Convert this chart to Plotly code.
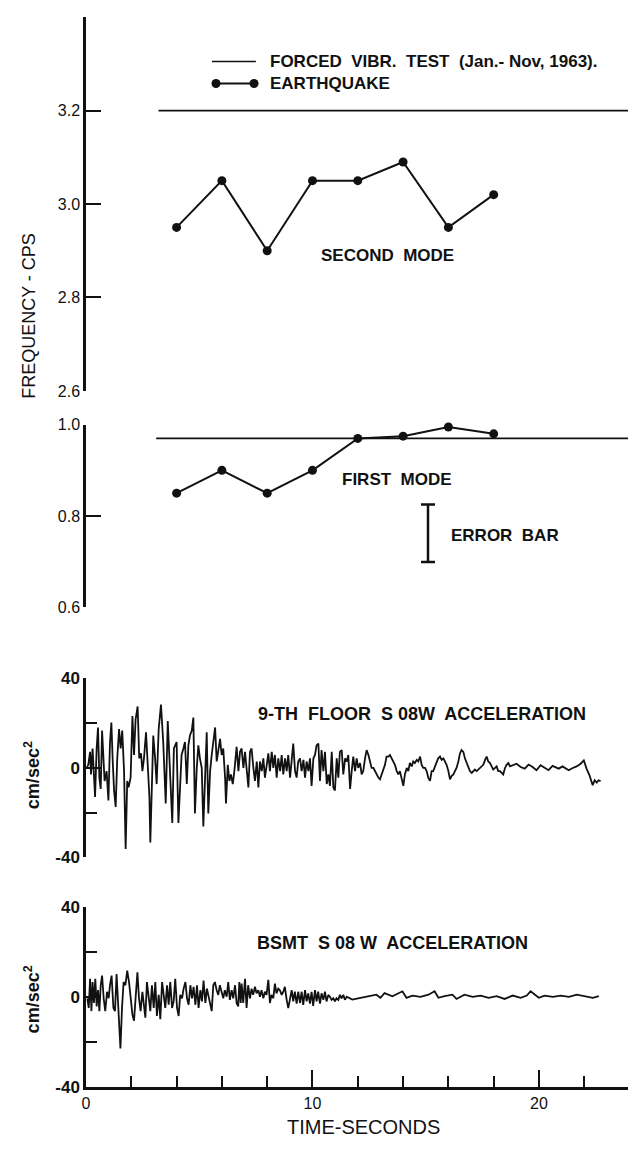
import plotly.graph_objects as go

# ---------------- data ----------------
MODE_TIMES = [4, 6, 8, 10, 12, 14, 16, 18]
SECOND_MODE_FREQ = [2.95, 3.05, 2.90, 3.05, 3.05, 3.09, 2.95, 3.02]
FIRST_MODE_FREQ = [0.85, 0.90, 0.85, 0.90, 0.97, 0.975, 0.995, 0.98]

T_MAX = 23.93
FORCED_SECOND_T = [3.2, T_MAX]
FORCED_SECOND_F = [3.2, 3.2]
FORCED_FIRST_T = [3.1, T_MAX]
FORCED_FIRST_F = [0.97, 0.97]

ERROR_BAR_T = [15.1]
ERROR_BAR_CENTER = [0.762]
ERROR_BAR_HALF = [0.063]

FREQ2_TICKS = [2.6, 2.8, 3.0, 3.2]
FREQ1_TICKS = [0.6, 0.8, 1.0]
ACC_TICKS = [-40, 0, 40]
ACC_MINOR_TICKS = [-20, 20]
TIME_TICKS = [0, 10, 20]
TIME_MINOR_TICKS = [2, 4, 6, 8, 12, 14, 16, 18, 22]

FLOOR9_T = [
    0.03, 0.10, 0.18, 0.22, 0.29, 0.35, 0.40, 0.47, 0.53, 0.59, 0.65, 0.71, 0.77, 0.82, 0.91, 0.99,
    1.06, 1.12, 1.18, 1.24, 1.31, 1.38, 1.46, 1.53, 1.60, 1.68, 1.75, 1.82, 1.88, 1.97, 2.05, 2.12,
    2.19, 2.28, 2.35, 2.43, 2.49, 2.56, 2.65, 2.72, 2.80, 2.84, 2.91, 2.97, 3.05, 3.12, 3.21, 3.31,
    3.41, 3.52, 3.61, 3.71, 3.81, 3.88,
    4.00, 4.08, 4.15, 4.22, 4.30, 4.37, 4.45, 4.52, 4.59, 4.67, 4.74, 4.81, 4.89, 4.96, 5.03, 5.11,
    5.18, 5.25, 5.33, 5.40, 5.48, 5.55, 5.62, 5.70, 5.77, 5.84, 5.92, 5.99, 6.06, 6.14, 6.18, 6.26,
    6.33, 6.40, 6.48, 6.55, 6.65, 6.73, 6.80, 6.87, 6.95, 7.02, 7.09, 7.17, 7.24, 7.31, 7.39, 7.46,
    7.54, 7.61, 7.68, 7.76, 7.83, 7.90, 7.98, 8.05, 8.12, 8.20, 8.27, 8.34, 8.42, 8.49, 8.57, 8.64,
    8.71, 8.79, 8.86, 8.93, 9.01, 9.08, 9.15, 9.23, 9.30, 9.37, 9.45, 9.52, 9.60, 9.67, 9.74, 9.82,
    9.89, 9.96, 10.04, 10.11, 10.18, 10.26, 10.33, 10.40, 10.48, 10.55, 10.63, 10.70, 10.77, 10.85,
    10.92, 10.99, 11.07, 11.14, 11.21, 11.29, 11.36, 11.44, 11.51, 11.58, 11.66, 11.73, 11.80, 11.88,
    11.95, 12.02, 12.10, 12.17, 12.24, 12.32, 12.39, 12.47, 12.54, 12.61, 12.69, 12.76, 12.83, 12.91,
    12.98, 13.05, 13.13, 13.20, 13.27,
    13.35, 13.42, 13.49, 13.57, 13.64, 13.72, 13.79, 13.86, 13.94, 14.01, 14.08, 14.16, 14.23, 14.30,
    14.38, 14.45, 14.52, 14.60, 14.67, 14.75, 14.82, 14.89, 14.97, 15.04, 15.11, 15.19, 15.26, 15.33,
    15.41, 15.48, 15.55, 15.63, 15.70, 15.78, 15.85, 15.92, 16.00, 16.07, 16.14, 16.22, 16.29, 16.36,
    16.44, 16.51, 16.58, 16.66, 16.73, 16.81, 16.88, 16.95, 17.03, 17.10, 17.17, 17.25, 17.32, 17.39,
    17.47, 17.54, 17.62, 17.69, 17.76, 17.84, 17.91, 17.98, 18.06, 18.13, 18.20, 18.28, 18.35, 18.42,
    18.50, 18.57, 18.65, 18.72,
    19.01, 19.19, 19.37, 19.54, 19.72, 19.89, 20.07, 20.25, 20.42, 20.60, 20.87, 21.04, 21.31, 21.49,
    21.66, 21.84, 21.98, 22.10, 22.23, 22.37, 22.46, 22.55, 22.63, 22.72,
]
FLOOR9_ACC = [
    0.0, 1.4, 7.2, -2.9, 8.7, -1.4, -13.0, 8.7, 18.1, -4.3, -9.4, 16.7, 2.9, -5.8, -1.4, -14.5,
    11.6, 20.3, 2.9, -10.1, -17.4, 4.3, 17.4, 8.7, 16.7, -1.4, -36.2, -5.8, -8.7, -4.3, 23.2, 5.8,
    21.7, 27.5, 4.3, 6.5, -1.4, 4.3, 15.9, -1.4, -13.0, -33.3, -5.8, 14.5, 4.3, -7.2, 17.4, 28.3,
    11.6, -15.9, 21.0, -1.4, -24.6, 8.7,
    11.6, -24.6, -5.8, 5.8, 8.7, 11.6, -7.2, 10.1, 14.5, 16.7, 22.5, -20.3, 0.0, 10.1, 4.3, 0.0,
    -26.1, -7.2, 15.9, -20.3, -1.4, 5.8, 13.0, 18.1, 2.9, 7.2, 13.0, 5.8, 8.7, -4.3, -15.9, 1.4,
    -5.8, -2.9, -7.2, -1.4, 9.4, -1.4, 7.2, 8.7, 0.0, 7.2, -1.4, -8.7, 7.2, 8.7, 0.0, -5.8,
    2.9, -8.7, 2.9, -1.4, 4.3, -4.3, 1.4, 6.5, -1.4, 7.2, 0.0, 5.8, -4.3, 4.3, -1.4, 5.8,
    -2.9, 4.3, -1.4, 5.8, -4.3, 4.3, 10.9, -1.4, -4.3, 2.9, 4.3, -1.4, 3.6, -4.3, 2.9, -1.4,
    4.3, -8.0, 4.3, 5.8, 10.1, 10.9, -5.8, 8.0, -1.4, 7.2, -7.2, -2.9, -8.0, 7.2,
    -8.7, -10.1, 4.3, -4.3, 7.2, 8.0, -2.9, 4.3, 2.9, 5.8, -9.4, -1.4, 5.1, -1.4,
    4.3, 0.0, 2.2, -2.9, -1.4, 4.3, 8.0, 5.8, 2.9, 0.0, 0.0, -1.4, -2.9, -4.3,
    -5.1, -2.9, -1.4, 1.4, 5.1,
    5.1, 5.8, 4.3, 2.9, 1.4, -1.4, -2.9, -1.4, -4.3, -8.0, -2.9, 0.0, -1.4, 2.2,
    0.7, 2.9, 2.2, 3.6, 2.9, 5.1, 1.4, 0.0, 0.0, -1.4, -4.3, -5.8, -1.4, -1.4,
    0.7, 2.2, 4.3, 5.1, 3.6, 4.3, 2.9, 1.4, -1.4, -5.1, -3.6, -2.9, -1.4, 0.0,
    2.9, 6.5, 8.0, 7.2, 4.3, 2.2, 0.0, -1.4, -2.2, -1.4, -0.7, -1.4, -0.7, 0.0,
    0.7, 1.4, 3.6, 5.1, 2.9, 2.2, 0.7, -0.7, 0.0, 0.7, -1.4, -1.4, -2.2, -2.9,
    0.0, 1.4, 2.2, 0.7,
    1.9, 0.4, -0.3, 1.5, 0.4, -1.0, 1.2, 0.0, -1.0, 0.9, -0.3, 0.7, -1.0, 0.0,
    0.7, 1.9, 3.4, -0.3, -3.3, -7.7, -5.5, -6.5, -5.5, -5.9,
]

BSMT_T = [
    0.06, 0.12, 0.18, 0.24, 0.29, 0.35, 0.41, 0.47, 0.53, 0.59, 0.65, 0.71, 0.78, 0.85, 0.93, 1.00,
    1.06, 1.13, 1.21, 1.28, 1.35, 1.44, 1.52, 1.59, 1.66, 1.74, 1.82, 1.90, 1.97, 2.05, 2.12, 2.19,
    2.27, 2.34, 2.41, 2.49, 2.56, 2.62, 2.69, 2.77, 2.84, 2.91, 2.99, 3.06, 3.13, 3.21, 3.28, 3.36,
    3.43, 3.50, 3.58, 3.65, 3.72, 3.80, 3.87, 3.94, 4.02, 4.09, 4.16, 4.24, 4.31, 4.39, 4.46, 4.53,
    4.61, 4.68, 4.75, 4.83, 4.90, 4.97, 5.05, 5.12, 5.19, 5.27, 5.34, 5.42,
    5.55, 5.62, 5.69, 5.77, 5.84, 5.91, 5.99, 6.06, 6.13, 6.21, 6.28, 6.35, 6.43, 6.50, 6.58, 6.65,
    6.72, 6.77, 6.83, 6.87, 6.94, 7.02, 7.09, 7.16, 7.24, 7.31, 7.38, 7.46, 7.53, 7.61, 7.68, 7.75,
    7.83, 7.90, 7.97, 8.05, 8.12, 8.19, 8.27, 8.34, 8.41, 8.49, 8.56, 8.64, 8.71, 8.78, 8.86, 8.93,
    9.00, 9.08, 9.15, 9.22, 9.30, 9.37, 9.45, 9.52, 9.59, 9.67, 9.74, 9.81, 9.89, 9.96, 10.03, 10.11,
    10.18, 10.25, 10.33, 10.40, 10.48, 10.55, 10.62, 10.70, 10.77, 10.84, 10.92, 10.99, 11.06, 11.14,
    11.21, 11.28, 11.36, 11.43, 11.51,
    11.76, 12.12, 12.47, 12.82, 13.00, 13.18, 13.53, 13.80, 13.97, 14.15, 14.41, 14.77, 15.12, 15.39,
    15.56, 15.83, 16.18, 16.36, 16.71, 17.07, 17.42, 17.78, 18.13, 18.48, 18.84, 19.19, 19.46, 19.63,
    19.99, 20.25, 20.61, 20.96, 21.32, 21.67, 22.02, 22.38, 22.64,
]
BSMT_ACC = [
    -0.6, -4.9, 8.1, -6.3, 6.6, -2.7, 8.1, -4.2, 3.0, -6.3, 5.2, 9.5, -0.6, -6.3, 2.3, -0.6,
    5.2, 9.5, -4.9, -6.3, 10.2, -7.8, -22.9, -4.9, 6.6, 5.2, 11.7, 6.6, 0.9, -7.8, -10.6, -0.6,
    10.9, -0.6, -6.3, 2.3, -3.5, -9.2, 6.6, -0.6, -6.3, 5.2, -4.9, 6.6, -8.5, 0.9, -9.9, 6.6,
    -0.6, -4.9, 5.2, -3.5, 6.6, -4.9, -2.0, 8.1, -4.9, -8.5, 0.9, -0.6, 3.7, 6.6, -0.6, -3.5,
    5.2, -0.6, 4.5, -3.5, 5.2, -4.9, 3.0, -2.0, 7.3, -2.7, 3.7, -0.6,
    -6.3, 5.2, 6.6, 3.0, 0.9, 5.2, 1.6, -0.6, 3.0, 0.1, 6.6, -1.3, 3.0, -0.6, 5.2, -2.7,
    -4.2, 6.6, -2.7, 5.9, -2.7, 8.1, -4.9, 5.2, -0.6, 3.7, 0.9, 4.5, 1.6, 3.0, 0.1, 3.0,
    -0.6, 2.3, 0.9, 7.6, -2.7, 0.9, -0.6, 5.9, 1.6, 3.7, 3.0, 0.9, 2.3, 4.5, -1.3, -5.0,
    -1.3, 3.0, -2.0, 2.3, -3.0, 2.3, -2.7, 2.3, -3.5, 3.0, -2.0, 1.6, -3.0, 2.3, -4.0, 3.0,
    -2.0, 2.3, -3.0, 1.6, -1.3, 2.3, -2.0, 0.9, 0.1, -1.3, -0.6, -2.0, -0.6, -1.3,
    0.9, -0.6, 0.9, -1.3, 0.1,
    -1.2, -0.4, 0.3, 1.0, -0.4, 1.7, 0.3, 1.7, 2.5, -0.4, 0.6, 0.0, 1.0, 2.5,
    -0.4, 0.3, 1.0, -0.9, 1.0, 0.0, 0.6, -0.4, 0.3, -0.9, 0.6, -0.4, 0.6, 2.5,
    -0.4, 0.6, 0.0, 0.6, 0.0, 1.0, 0.3, -0.4, 0.3,
]

# ---------------- layout helpers (pixels -> paper) ----------------
W, H = 628, 1151
L = 86


def dom(top_px, bot_px):
    return [1 - bot_px / H, 1 - top_px / H]


def px_x(p):
    return (p - L) / (W - L)


def px_y(p):
    return 1 - p / H


INK = "#111111"
FONT = "Liberation Sans, Arial, sans-serif"

fig = go.Figure()

fig.add_trace(go.Scatter(x=FORCED_SECOND_T, y=FORCED_SECOND_F, mode="lines",
                         line=dict(color=INK, width=1.6), xaxis="x", yaxis="y"))
fig.add_trace(go.Scatter(x=FORCED_FIRST_T, y=FORCED_FIRST_F, mode="lines",
                         line=dict(color=INK, width=1.6), xaxis="x", yaxis="y2"))
fig.add_trace(go.Scatter(x=MODE_TIMES, y=SECOND_MODE_FREQ, mode="lines+markers",
                         line=dict(color=INK, width=2), marker=dict(size=9, color=INK),
                         cliponaxis=False, xaxis="x", yaxis="y"))
fig.add_trace(go.Scatter(x=MODE_TIMES, y=FIRST_MODE_FREQ, mode="lines+markers",
                         line=dict(color=INK, width=2), marker=dict(size=9, color=INK),
                         cliponaxis=False, xaxis="x", yaxis="y2"))
fig.add_trace(go.Scatter(x=ERROR_BAR_T, y=ERROR_BAR_CENTER, mode="markers",
                         marker=dict(size=1, color="rgba(0,0,0,0)"),
                         error_y=dict(type="data", array=ERROR_BAR_HALF, width=7,
                                      thickness=2.5, color=INK),
                         xaxis="x", yaxis="y2"))
fig.add_trace(go.Scatter(x=FLOOR9_T, y=FLOOR9_ACC, mode="lines",
                         line=dict(color=INK, width=1.8), xaxis="x", yaxis="y3"))
fig.add_trace(go.Scatter(x=BSMT_T, y=BSMT_ACC, mode="lines",
                         line=dict(color=INK, width=1.8), xaxis="x", yaxis="y4"))

yaxis_common = dict(anchor="x", showline=True, linewidth=2.5, linecolor=INK,
                    ticks="inside", ticklen=15, tickwidth=2, tickcolor=INK,
                    showgrid=False, zeroline=False,
                    tickfont=dict(family=FONT, size=16, color=INK))
acc_axis = dict(yaxis_common, range=[-40, 40], tickvals=ACC_TICKS,
                ticktext=[f"<b>{v}</b>" for v in ACC_TICKS],
                tickfont=dict(family=FONT, size=17, color=INK),
                minor=dict(tickvals=ACC_MINOR_TICKS, ticks="inside", ticklen=11,
                           tickwidth=2, tickcolor=INK, showgrid=False))

fig.update_layout(
    width=W, height=H,
    margin=dict(l=L, r=0, t=0, b=0),
    paper_bgcolor="white", plot_bgcolor="white",
    showlegend=False,
    xaxis=dict(anchor="y4", domain=[0, 1], range=[0, T_MAX], showline=True,
               linewidth=2.5, linecolor=INK, showgrid=False, zeroline=False,
               ticks="inside", ticklen=17, tickwidth=2, tickcolor=INK,
               tickvals=TIME_TICKS, ticktext=[str(v) for v in TIME_TICKS],
               tickfont=dict(family=FONT, size=16, color=INK),
               minor=dict(tickvals=TIME_MINOR_TICKS, ticks="inside", ticklen=11,
                          tickwidth=2, tickcolor=INK, showgrid=False)),
    yaxis=dict(domain=dom(8.3, 388.3), range=[2.6, 3.4], tickvals=FREQ2_TICKS,
               ticktext=[f"{v:.1f}" for v in FREQ2_TICKS], **yaxis_common),
    yaxis2=dict(domain=dom(422.7, 608.3), range=[0.6, 1.0], tickvals=FREQ1_TICKS,
                ticktext=[f"{v:.1f}" for v in FREQ1_TICKS], **yaxis_common),
    yaxis3=dict(domain=dom(680.7, 862.7), **acc_axis),
    yaxis4=dict(domain=dom(913, 1096), **acc_axis),
)

annots = []


def txt(text, x, y, xref="paper", yref="paper", size=18, bold=True, xanchor="center",
        yanchor="middle", angle=0):
    annots.append(dict(text=f"<b>{text}</b>" if bold else text, x=x, y=y, xref=xref, yref=yref,
                       xanchor=xanchor, yanchor=yanchor, textangle=angle, showarrow=False,
                       font=dict(family=FONT, size=size, color=INK)))


txt("FREQUENCY - CPS", px_x(29), px_y(312), size=18, bold=False, angle=-90)
txt("cm/sec<sup>2</sup>", px_x(32), px_y(779), size=18, angle=-90)
txt("cm/sec<sup>2</sup>", px_x(32), px_y(1007), size=18, angle=-90)
txt("FORCED  VIBR.  TEST  (Jan.- Nov, 1963).", 8.04, 3.305, "x", "y", size=17, xanchor="left")
txt("EARTHQUAKE", 8.04, 3.258, "x", "y", size=17, xanchor="left")
txt("SECOND  MODE", 10.3, 2.89, "x", "y", size=17, xanchor="left")
txt("FIRST  MODE", 11.2, 0.881, "x", "y2", size=17, xanchor="left")
txt("ERROR  BAR", 16.03, 0.758, "x", "y2", size=17, xanchor="left")
txt("9-TH  FLOOR  S 08W  ACCELERATION", 7.5, 24, "x", "y3", size=18, xanchor="left")
txt("BSMT  S 08 W  ACCELERATION", 7.48, 23.8, "x", "y4", size=18, xanchor="left")
txt("TIME-SECONDS", 12.23, px_y(1137), "x", "paper", size=20, bold=False)
fig.update_layout(annotations=annots)

shapes = [
    dict(type="line", xref="x", yref="y", x0=5.56, x1=7.5, y0=3.305, y1=3.305,
         line=dict(color=INK, width=1.6)),
    dict(type="line", xref="x", yref="y", x0=5.74, x1=7.42, y0=3.258, y1=3.258,
         line=dict(color=INK, width=2)),
]
for cx in (5.74, 7.42):
    shapes.append(dict(type="circle", xref="x", yref="y", xsizemode="pixel", ysizemode="pixel",
                       xanchor=cx, yanchor=3.258, x0=-4.5, x1=4.5, y0=-4.5, y1=4.5,
                       fillcolor=INK, line=dict(color=INK, width=0)))
fig.update_layout(shapes=shapes)

fig.write_html("out.html")
